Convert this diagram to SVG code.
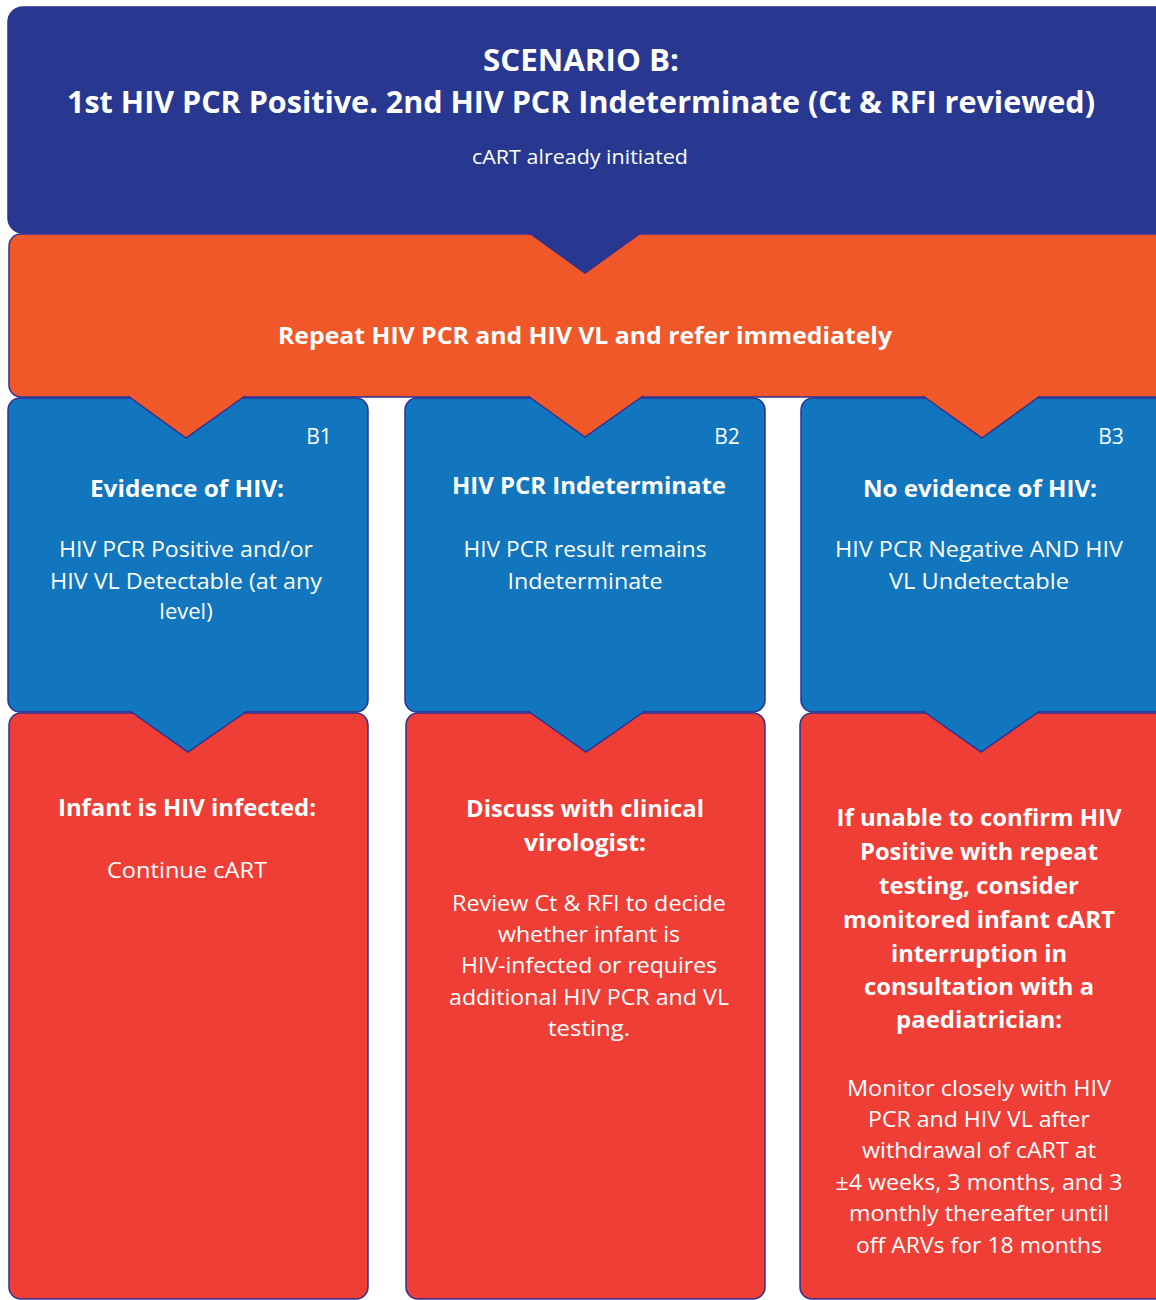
<svg xmlns="http://www.w3.org/2000/svg" width="1156" height="1300" viewBox="0 0 1156 1300">
<style>
.box{stroke:#2e3192;stroke-width:1.5}
.navy{fill:#283891}
.orange{fill:#f0582a}
.blue{fill:#1176bd}
.red{fill:#ee3e36}
.conn{stroke:#2e3192;stroke-width:1.5;stroke-linejoin:miter}
text{font-family:"Open Sans","Liberation Sans",sans-serif;fill:#ffffff;text-anchor:middle}
.b{font-weight:bold}
.t{font-size:22px}
.h{font-size:24px}
</style>
<rect width="1156" height="1300" fill="#ffffff"/>
<g id="node-header">
<rect class="box navy" x="8" y="7" width="1170" height="226" rx="15"/>
<text class="b" x="581" y="71" font-size="30" textLength="196" lengthAdjust="spacingAndGlyphs">SCENARIO B:</text>
<text class="b" x="581" y="113" font-size="30" textLength="1028" lengthAdjust="spacingAndGlyphs">1st HIV PCR Positive. 2nd HIV PCR Indeterminate (Ct &amp; RFI reviewed)</text>
<text x="580" y="164" font-size="20" textLength="216" lengthAdjust="spacingAndGlyphs">cART already initiated</text>
</g>
<g id="node-repeat">
<rect class="box orange" x="9" y="234" width="1170" height="163" rx="12"/>
<text class="b" x="585" y="344" font-size="24" textLength="614" lengthAdjust="spacingAndGlyphs">Repeat HIV PCR and HIV VL and refer immediately</text>
</g>
<g id="node-b1">
<rect class="box blue" x="8" y="398" width="360" height="314" rx="12"/>
<text x="319" y="444" font-size="21">B1</text>
<text class="b h" x="187" y="497" textLength="194" lengthAdjust="spacingAndGlyphs">Evidence of HIV:</text>
<text class="t" x="186" y="557" textLength="254" lengthAdjust="spacingAndGlyphs">HIV PCR Positive and/or</text>
<text class="t" x="186" y="589" textLength="272" lengthAdjust="spacingAndGlyphs">HIV VL Detectable (at any</text>
<text class="t" x="186" y="619">level)</text>
</g>
<g id="node-b2">
<rect class="box blue" x="405" y="398" width="360" height="314" rx="12"/>
<text x="727" y="444" font-size="21">B2</text>
<text class="b h" x="589" y="494" textLength="274" lengthAdjust="spacingAndGlyphs">HIV PCR Indeterminate</text>
<text class="t" x="585" y="557" textLength="243" lengthAdjust="spacingAndGlyphs">HIV PCR result remains</text>
<text class="t" x="585" y="589" textLength="155" lengthAdjust="spacingAndGlyphs">Indeterminate</text>
</g>
<g id="node-b3">
<rect class="box blue" x="801" y="398" width="370" height="314" rx="12"/>
<text x="1111" y="444" font-size="21">B3</text>
<text class="b h" x="980" y="497" textLength="234" lengthAdjust="spacingAndGlyphs">No evidence of HIV:</text>
<text class="t" x="979" y="557" textLength="288" lengthAdjust="spacingAndGlyphs">HIV PCR Negative AND HIV</text>
<text class="t" x="979" y="589" textLength="180" lengthAdjust="spacingAndGlyphs">VL Undetectable</text>
</g>
<g id="node-b1-result">
<rect class="box red" x="9" y="713" width="359" height="586" rx="12"/>
<text class="b h" x="187" y="816" textLength="258" lengthAdjust="spacingAndGlyphs">Infant is HIV infected:</text>
<text class="t" x="187" y="878" textLength="160" lengthAdjust="spacingAndGlyphs">Continue cART</text>
</g>
<g id="node-b2-result">
<rect class="box red" x="406" y="713" width="359" height="586" rx="12"/>
<text class="b h" x="585" y="817" textLength="238" lengthAdjust="spacingAndGlyphs">Discuss with clinical</text>
<text class="b h" x="585" y="851" textLength="122" lengthAdjust="spacingAndGlyphs">virologist:</text>
<text class="t" x="589" y="911" textLength="274" lengthAdjust="spacingAndGlyphs">Review Ct &amp; RFI to decide</text>
<text class="t" x="589" y="942" textLength="182" lengthAdjust="spacingAndGlyphs">whether infant is</text>
<text class="t" x="589" y="973" textLength="256" lengthAdjust="spacingAndGlyphs">HIV-infected or requires</text>
<text class="t" x="589" y="1005" textLength="280" lengthAdjust="spacingAndGlyphs">additional HIV PCR and VL</text>
<text class="t" x="589" y="1036" textLength="82" lengthAdjust="spacingAndGlyphs">testing.</text>
</g>
<g id="node-b3-result">
<rect class="box red" x="800" y="713" width="371" height="586" rx="12"/>
<text class="b h" x="979" y="826" textLength="285" lengthAdjust="spacingAndGlyphs">If unable to confirm HIV</text>
<text class="b h" x="979" y="860" textLength="238" lengthAdjust="spacingAndGlyphs">Positive with repeat</text>
<text class="b h" x="979" y="894" textLength="200" lengthAdjust="spacingAndGlyphs">testing, consider</text>
<text class="b h" x="979" y="928" textLength="272" lengthAdjust="spacingAndGlyphs">monitored infant cART</text>
<text class="b h" x="979" y="962" textLength="176" lengthAdjust="spacingAndGlyphs">interruption in</text>
<text class="b h" x="979" y="995" textLength="230" lengthAdjust="spacingAndGlyphs">consultation with a</text>
<text class="b h" x="979" y="1028" textLength="166" lengthAdjust="spacingAndGlyphs">paediatrician:</text>
<text class="t" x="979" y="1096" textLength="264" lengthAdjust="spacingAndGlyphs">Monitor closely with HIV</text>
<text class="t" x="979" y="1127" textLength="222" lengthAdjust="spacingAndGlyphs">PCR and HIV VL after</text>
<text class="t" x="979" y="1158" textLength="234" lengthAdjust="spacingAndGlyphs">withdrawal of cART at</text>
<text class="t" x="979" y="1190" textLength="287" lengthAdjust="spacingAndGlyphs">±4 weeks, 3 months, and 3</text>
<text class="t" x="979" y="1221" textLength="260" lengthAdjust="spacingAndGlyphs">monthly thereafter until</text>
<text class="t" x="979" y="1253" textLength="246" lengthAdjust="spacingAndGlyphs">off ARVs for 18 months</text>
</g>
<g id="connectors">
<path class="conn navy" d="M528,232 L585,273 L642,232"/>
<path class="conn orange" d="M128,396 L186,438 L245,396"/>
<path class="conn orange" d="M528,396 L585,437 L643,396"/>
<path class="conn orange" d="M923,396 L982,438 L1040,396"/>
<path class="conn blue" d="M130,711 L188,752 L247,711"/>
<path class="conn blue" d="M528,711 L586,752 L645,711"/>
<path class="conn blue" d="M923,711 L981,752 L1040,711"/>
</g>
</svg>
